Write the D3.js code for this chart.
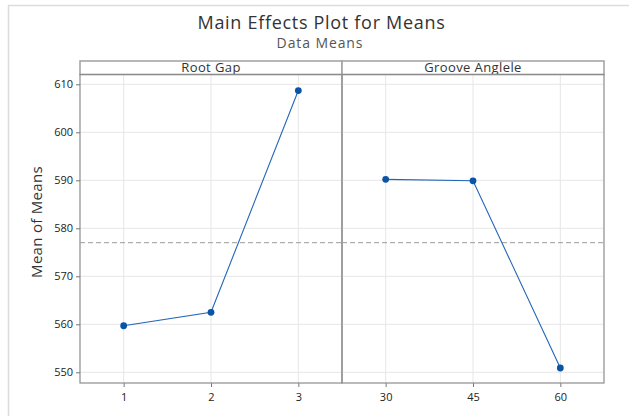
<!DOCTYPE html>
<html><head><meta charset="utf-8">
<script src="https://cdn.jsdelivr.net/npm/d3@7"></script>
<style>body{margin:0;background:#fff;font-family:"Open Sans","Noto Sans",sans-serif;}</style>
</head><body>
<svg id="c" width="629" height="416"></svg>
<script>
const factors = ["Root Gap", "Groove Anglele"];
const rootGapLevels = ["1", "2", "3"];
const rootGapMeans = [559.7, 562.5, 608.7];
const grooveLevels = ["30", "45", "60"];
const grooveMeans = [590.2, 589.9, 550.9];
const yTicks = [550, 560, 570, 580, 590, 600, 610];
const overallMean = 577.0;

(function () {
const svg = d3.select("#c");
const W = 629, H = 416;
const mLeft = 80, mRight = 604, mTop = 61, stripH = 13.5, mBottom = 383;
const plotTop = mTop + stripH;
const panelW = (mRight - mLeft) / 2;

svg.append("line").attr("x1", 8).attr("x2", W).attr("y1", 5.5).attr("y2", 5.5).attr("stroke", "#dcdcdc").attr("stroke-width", 1.5);
svg.append("line").attr("x1", 8.5).attr("x2", 8.5).attr("y1", 5).attr("y2", H).attr("stroke", "#dcdcdc").attr("stroke-width", 1.5);

svg.append("text").attr("x", 321.5).attr("y", 29).attr("text-anchor", "middle")
  .attr("font-size", 18).attr("letter-spacing", 0.7).attr("font-weight", 500).attr("fill", "#333").text("Main Effects Plot for Means");
svg.append("text").attr("x", 320).attr("y", 47.5).attr("text-anchor", "middle")
  .attr("font-size", 14).attr("letter-spacing", 0.9).attr("font-weight", 500).attr("fill", "#555").text("Data Means");

const y = d3.scaleLinear().domain([550, 610]).range([372.3, 84.3]);

const panels = [
  {name: factors[0], levels: rootGapLevels, means: rootGapMeans},
  {name: factors[1], levels: grooveLevels, means: grooveMeans}
];

panels.forEach((p, i) => {
  const x0 = mLeft + i * panelW;
  const x = d3.scalePoint().domain(p.levels).range([x0, x0 + panelW]).padding(0.5);
  yTicks.forEach(t => {
    svg.append("line").attr("x1", x0).attr("x2", x0 + panelW).attr("y1", y(t)).attr("y2", y(t))
      .attr("stroke", "#e6e6e6").attr("stroke-width", 1);
  });
  p.levels.forEach(l => {
    svg.append("line").attr("x1", x(l)).attr("x2", x(l)).attr("y1", plotTop).attr("y2", mBottom)
      .attr("stroke", "#e6e6e6").attr("stroke-width", 1);
  });
  const xa = svg.append("g").attr("transform", `translate(0,${mBottom})`)
    .call(d3.axisBottom(x).tickSize(4).tickSizeOuter(0));
  xa.select(".domain").remove();
  xa.selectAll("line").attr("stroke", "#777");
  xa.selectAll("text").attr("font-size", 11).attr("font-weight", 500).attr("fill", "#222").attr("font-family", "Open Sans, sans-serif").attr("dy", "1em");
  svg.append("rect").attr("x", x0).attr("y", mTop).attr("width", panelW).attr("height", stripH)
    .attr("fill", "#fff").attr("stroke", "#a0a0a0").attr("stroke-width", 1.5);
  svg.append("text").attr("x", x0 + panelW / 2).attr("y", mTop + 10.5).attr("text-anchor", "middle")
    .attr("font-size", 13).attr("letter-spacing", 0.4).attr("fill", "#333").text(p.name);
  svg.append("rect").attr("x", x0).attr("y", plotTop).attr("width", panelW).attr("height", mBottom - plotTop)
    .attr("fill", "none").attr("stroke", "#8c8c8c").attr("stroke-width", 1.2);
  svg.append("line").attr("x1", x0).attr("x2", x0 + panelW).attr("y1", y(overallMean)).attr("y2", y(overallMean))
    .attr("stroke", "#9a9a9a").attr("stroke-dasharray", "5,3").attr("stroke-width", 1);
  const pts = p.levels.map((l, k) => [x(l), y(p.means[k])]);
  svg.append("path").attr("d", d3.line()(pts)).attr("fill", "none").attr("stroke", "#2266b8").attr("stroke-width", 1.1);
  svg.selectAll(null).data(pts).enter().append("circle")
    .attr("cx", d => d[0]).attr("cy", d => d[1]).attr("r", 3.4).attr("fill", "#0a54a6");
});

const ya = svg.append("g").attr("transform", `translate(${mLeft},0)`)
  .call(d3.axisLeft(y).tickValues(yTicks).tickSize(4).tickSizeOuter(0));
ya.select(".domain").remove();
ya.selectAll("line").attr("stroke", "#777");
ya.selectAll("text").attr("font-size", 11).attr("font-weight", 500).attr("fill", "#222").attr("font-family", "Open Sans, sans-serif");

svg.append("text").attr("transform", `translate(42,222) rotate(-90)`)
  .attr("text-anchor", "middle").attr("font-size", 15).attr("letter-spacing", 0.3).attr("font-weight", 500).attr("fill", "#333").text("Mean of Means");
})();
</script>
</body></html>
